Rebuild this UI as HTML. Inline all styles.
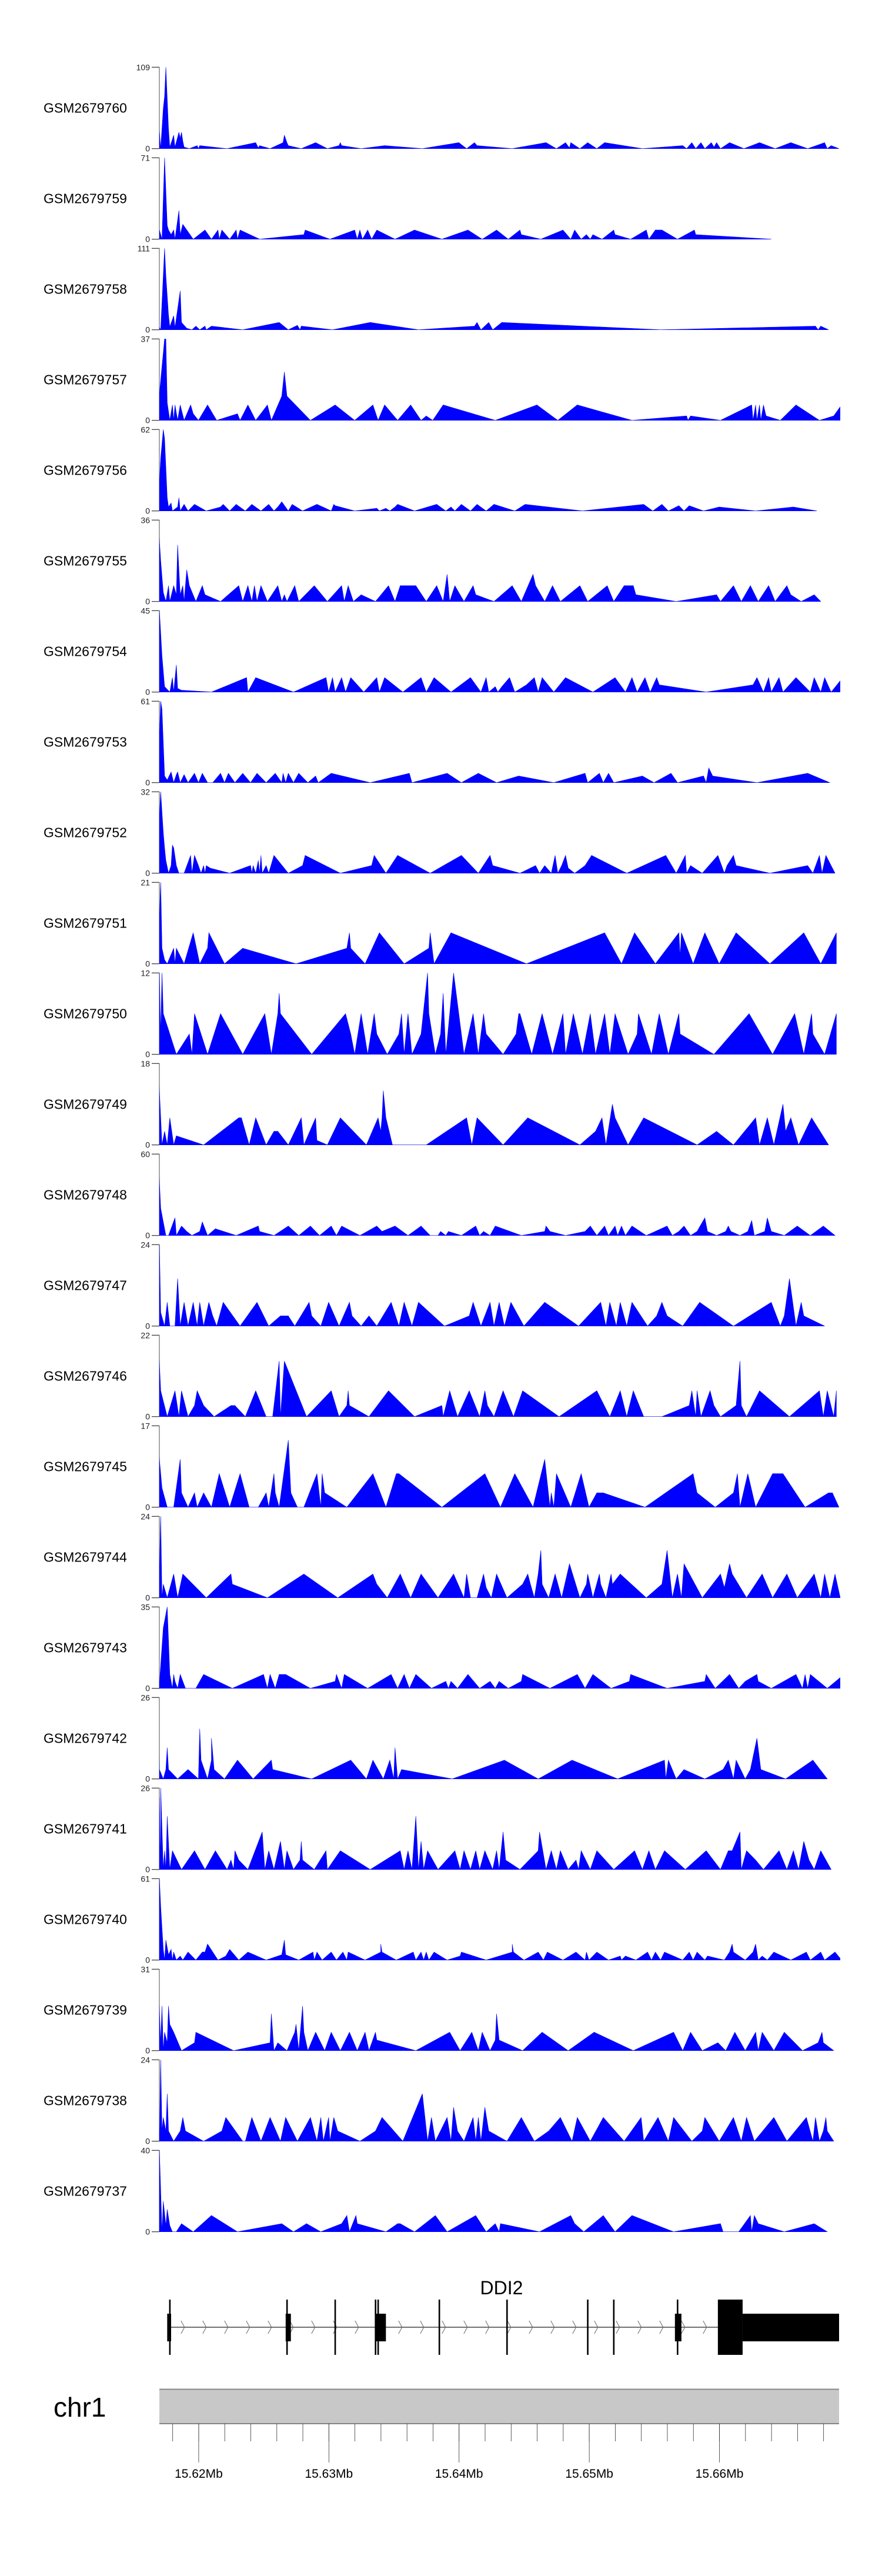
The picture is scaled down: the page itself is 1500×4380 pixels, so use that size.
<!DOCTYPE html>
<html><head><meta charset="utf-8"><title>DDI2 coverage tracks</title>
<style>
html,body{margin:0;padding:0;background:#fff;}
svg{display:block;font-family:"Liberation Sans",Arial,sans-serif;}
</style></head>
<body>
<svg id="chart" width="1500" height="4380" viewBox="0 0 1500 4380" xmlns="http://www.w3.org/2000/svg">
<defs><clipPath id="plotclip"><rect x="271" y="0" width="1158" height="4380"/></clipPath></defs>
<g id="tracks"></g>
<g id="gene"></g>
<g id="ideo"></g>
</svg>
<script>
// ---- data: sample names, y-axis maxima, coverage points [kb offset from 15616.48kb, reads] ----
const sampleNames = ["GSM2679760","GSM2679759","GSM2679758","GSM2679757","GSM2679756","GSM2679755","GSM2679754","GSM2679753","GSM2679752","GSM2679751","GSM2679750","GSM2679749","GSM2679748","GSM2679747","GSM2679746","GSM2679745","GSM2679744","GSM2679743","GSM2679742","GSM2679741","GSM2679740","GSM2679739","GSM2679738","GSM2679737"];
const axisMax = [109,71,111,37,62,36,45,61,32,21,12,18,60,24,22,17,24,35,26,26,61,31,24,40];
const d60=[[0.5,23],[0.6,0],[0.8,54],[0.9,70],[1.0,109],[1.2,26],[1.3,2],[1.6,18],[1.7,2],[2.0,22],[2.1,14],[2.2,22],[2.3,10],[2.4,2],[2.8,0],[3.4,4],[3.5,0],[3.6,4],[5.7,0],[7.9,8],[8.1,1],[8.2,4],[9.0,0],[10.0,8],[10.1,18],[10.3,8],[10.4,4],[11.4,0],[12.5,8],[13.4,0],[14.3,4],[14.4,8],[14.5,4],[16.0,0],[17.8,4],[20.7,0],[23.5,8],[24.1,0],[24.7,8],[24.9,4],[27.6,0],[30.2,8],[31.0,0],[31.7,8],[32.0,1],[32.1,8],[32.8,0],[33.4,8],[34.1,0],[34.7,8],[37.6,0],[40.7,4],[41.0,0],[41.4,8],[41.7,0],[42.1,8],[42.4,0],[42.9,8],[43.1,2],[43.3,8],[43.6,0],[44.3,8],[45.4,0],[46.6,8],[47.8,0],[49.0,8],[50.3,0],[51.6,8],[51.8,0],[52.1,4],[52.7,0]];
const d59=[[0.5,8],[0.7,0],[0.9,71],[1.1,12],[1.2,8],[1.4,4],[1.6,8],[1.7,0],[2.0,25],[2.1,4],[2.3,13],[3.1,0],[4.0,8],[4.5,0],[5.0,8],[5.1,0],[5.3,8],[5.9,0],[6.4,8],[6.5,0],[6.7,8],[8.2,0],[11.6,4],[11.7,8],[13.6,0],[15.5,8],[15.7,0],[15.9,8],[16.1,0],[16.5,8],[16.8,0],[17.2,8],[18.6,0],[20.1,8],[22.2,0],[24.2,8],[25.3,0],[26.4,8],[27.3,0],[28.2,8],[28.3,4],[29.8,0],[31.5,8],[32.1,0],[32.4,8],[32.9,0],[33.3,4],[33.6,0],[33.8,4],[34.5,0],[35.4,8],[35.5,4],[36.7,0],[37.9,8],[38.1,0],[38.6,8],[39.1,8],[40.3,0],[41.6,8],[41.7,4],[47.5,0]];
const d58=[[0.4,6],[0.6,0],[0.9,111],[1.0,74],[1.2,20],[1.3,4],[1.6,19],[1.7,3],[2.1,53],[2.2,10],[2.6,2],[3.0,0],[3.3,5],[3.6,0],[4.0,5],[4.1,0],[4.5,5],[6.9,0],[9.7,10],[10.4,0],[11.1,6],[11.3,0],[11.4,5],[13.8,0],[16.7,10],[20.4,0],[24.7,5],[24.9,10],[25.2,0],[25.8,10],[26.1,0],[26.8,10],[39.0,0],[50.9,5],[51.1,0],[51.3,5],[51.9,0]];
const d57=[[0.2,0],[0.5,12],[0.9,37],[1.0,37],[1.1,8],[1.3,0],[1.5,7],[1.6,0],[1.7,7],[1.9,0],[2.1,7],[2.4,0],[2.9,7],[3.1,3],[3.5,0],[4.2,7],[4.6,3],[4.9,0],[6.5,3],[6.7,0],[7.3,7],[7.9,0],[8.8,7],[9.1,0],[9.9,11],[10.1,22],[10.3,11],[12.1,0],[14.0,7],[15.5,0],[16.9,7],[17.3,0],[17.8,7],[18.8,0],[19.8,7],[20.6,0],[21.0,2],[21.5,0],[22.3,7],[26.3,0],[29.5,7],[31.1,0],[32.6,7],[36.8,0],[41.0,2],[41.1,0],[41.3,2],[43.6,0],[46.0,7],[46.1,0],[46.3,7],[46.4,0],[46.6,7],[46.7,0],[46.9,7],[47.1,2],[48.2,0],[49.4,7],[51.2,0],[52.3,2],[52.9,7],[53.0,0]];
const d56=[[0.2,0],[0.4,4],[0.6,40],[0.8,62],[0.9,55],[1.1,10],[1.2,3],[1.4,6],[1.5,0],[1.9,3],[2.0,10],[2.1,0],[2.4,5],[2.7,0],[3.2,5],[4.1,0],[5.2,3],[5.4,5],[5.9,0],[6.4,5],[7.1,0],[7.6,5],[8.3,0],[8.9,5],[9.3,0],[9.6,3],[9.9,7],[10.4,0],[10.7,5],[11.5,0],[12.6,5],[13.7,0],[13.9,5],[14.0,4],[15.5,0],[17.2,2],[17.4,0],[17.9,2],[18.2,0],[18.6,3],[18.8,5],[20.1,0],[21.8,5],[22.5,0],[22.9,3],[23.2,0],[23.7,5],[24.4,0],[24.9,5],[25.6,0],[26.2,5],[27.8,0],[28.6,5],[33.0,0],[37.7,5],[38.4,0],[39.1,5],[39.6,0],[40.4,4],[40.8,0],[41.2,4],[42.3,0],[43.5,3],[46.3,0],[49.2,3],[51.0,0]];
const d55=[[0.1,0],[0.4,36],[0.6,18],[0.8,4],[1.0,0],[1.2,7],[1.3,0],[1.6,7],[1.8,3],[1.9,25],[2.1,3],[2.3,7],[2.4,0],[2.6,14],[2.8,7],[3.3,0],[3.8,7],[4.0,3],[5.2,0],[6.6,7],[6.9,0],[7.3,7],[7.6,0],[7.8,7],[8.0,0],[8.3,7],[8.8,0],[9.6,7],[9.9,0],[10.1,3],[10.3,0],[10.9,7],[11.2,0],[12.4,7],[13.4,0],[14.5,7],[14.7,0],[15.0,7],[15.4,0],[16.0,3],[17.1,0],[18.1,7],[18.6,0],[19.0,7],[20.2,7],[21.0,0],[21.8,7],[22.3,0],[22.6,12],[22.8,0],[23.2,7],[23.9,0],[24.6,7],[24.8,3],[26.2,0],[27.6,7],[28.3,0],[29.2,12],[29.4,7],[30.1,0],[30.7,7],[31.3,0],[32.8,7],[33.4,0],[34.9,7],[35.4,0],[36.2,7],[36.9,7],[37.1,3],[40.2,0],[43.3,3],[43.6,0],[44.6,7],[45.2,0],[45.9,7],[46.5,0],[47.3,7],[47.8,0],[48.7,7],[49.0,3],[49.8,0],[50.8,3],[51.3,0]];
const d54=[[0.1,0],[0.5,45],[0.7,20],[0.9,3],[1.3,0],[1.5,8],[1.6,0],[1.8,15],[1.9,2],[2.2,1],[4.5,0],[7.2,8],[7.3,0],[7.9,8],[10.8,0],[13.3,8],[13.5,0],[13.8,8],[14.0,0],[14.5,8],[14.8,0],[15.2,8],[16.2,0],[17.2,8],[17.4,0],[17.8,8],[19.2,0],[20.6,8],[21.0,0],[21.6,8],[22.9,0],[24.4,8],[25.2,0],[25.6,8],[25.8,0],[26.3,3],[26.5,0],[26.8,3],[27.4,8],[27.8,0],[28.7,4],[29.3,8],[29.6,0],[29.9,8],[30.8,0],[31.7,8],[33.8,0],[35.5,8],[36.3,0],[36.8,8],[37.2,0],[37.8,8],[38.2,0],[38.7,8],[38.9,4],[42.5,0],[46.1,4],[46.4,8],[46.9,0],[47.3,8],[47.5,0],[48.1,8],[48.4,0],[49.4,8],[50.5,0],[50.8,8],[51.3,0],[51.6,8],[52.1,0],[53.0,8]];
const d53=[[0.1,0],[0.4,10],[0.6,61],[0.7,55],[0.9,5],[1.1,2],[1.4,8],[1.6,0],[1.8,6],[1.9,8],[2.1,0],[2.4,6],[2.7,0],[3.2,7],[3.5,0],[3.8,7],[4.2,0],[4.6,0],[5.2,7],[5.5,0],[5.8,7],[6.3,0],[6.9,7],[7.5,0],[8.0,7],[8.7,0],[9.4,7],[9.9,0],[10.0,7],[10.2,0],[10.4,7],[10.8,0],[11.2,7],[11.9,0],[12.5,5],[12.7,0],[13.7,7],[16.7,0],[19.7,7],[19.9,0],[22.6,7],[23.7,0],[25.0,7],[26.4,0],[28.1,5],[30.8,0],[33.2,7],[33.4,0],[34.3,7],[34.6,0],[35.0,7],[35.4,0],[37.6,5],[38.5,0],[39.8,7],[40.3,0],[42.3,5],[42.5,0],[42.7,11],[43.0,5],[46.4,0],[50.3,7],[52.0,0]];
const d52=[[0.1,0],[0.2,7],[0.3,3],[0.6,32],[0.8,16],[0.9,10],[1.0,5],[1.2,0],[1.4,3],[1.5,11],[1.6,10],[1.8,3],[2.0,0],[2.4,0],[2.9,7],[3.0,0],[3.2,7],[3.5,3],[3.7,0],[3.9,3],[4.0,0],[4.1,3],[4.4,2],[5.9,0],[7.5,3],[7.6,0],[7.7,3],[7.9,0],[8.1,5],[8.2,0],[8.3,7],[8.4,0],[8.7,3],[8.9,0],[9.3,7],[10.4,0],[11.5,3],[11.7,7],[14.4,0],[16.8,3],[17.0,7],[17.9,0],[18.8,7],[21.3,0],[23.7,7],[25.0,0],[25.9,7],[26.1,3],[28.2,0],[29.4,3],[29.7,0],[30.1,3],[30.6,0],[30.9,7],[31.1,0],[31.4,3],[31.7,7],[31.9,2],[32.4,0],[33.2,3],[33.7,7],[36.4,0],[39.4,7],[40.2,0],[40.9,7],[41.0,0],[41.3,3],[42.2,0],[43.4,7],[43.9,0],[44.1,3],[44.6,7],[44.8,3],[47.4,0],[50.3,3],[50.7,0],[51.2,7],[51.4,0],[51.7,7],[52.4,0]];
const d51=[[0.1,0],[0.3,12],[0.4,8],[0.5,12],[0.6,21],[0.7,4],[0.9,1],[1.1,0],[1.6,4],[1.7,0],[1.8,4],[2.4,0],[3.1,8],[3.6,0],[4.2,4],[4.3,8],[5.5,0],[6.9,4],[11.0,0],[14.9,4],[15.1,8],[15.2,4],[16.3,0],[17.4,8],[19.3,0],[21.2,4],[21.3,8],[21.6,0],[22.9,8],[28.7,0],[34.7,8],[36.0,0],[37.0,8],[38.6,0],[40.4,8],[40.5,2],[40.6,8],[41.5,0],[42.4,8],[43.5,0],[44.8,8],[47.4,0],[50.0,8],[51.3,0],[52.5,8]];
const d50=[[0.1,0],[0.3,3],[0.4,0],[0.5,12],[0.6,3],[0.7,12],[0.8,6],[1.8,0],[2.8,3],[3.0,0],[3.2,6],[4.2,0],[5.2,6],[6.9,0],[8.6,6],[9.1,0],[9.6,6],[9.7,9],[9.8,6],[12.2,0],[14.8,6],[15.2,3],[15.5,0],[16.0,6],[16.5,0],[17.0,6],[17.2,3],[18.0,0],[18.9,3],[19.1,6],[19.3,0],[19.6,6],[19.9,0],[20.6,3],[21.1,12],[21.2,6],[21.7,0],[22.1,3],[22.3,9],[22.5,0],[23.1,12],[23.9,0],[24.6,6],[25.0,0],[25.4,6],[25.6,3],[26.9,0],[27.9,3],[28.1,6],[28.2,6],[29.1,0],[29.9,6],[30.7,0],[31.5,6],[31.7,0],[32.3,6],[33.0,0],[33.6,6],[34.0,0],[34.7,6],[35.1,0],[35.5,6],[36.5,0],[37.2,3],[37.3,6],[38.3,0],[38.9,6],[39.6,0],[40.4,6],[40.5,3],[43.1,0],[45.8,6],[47.6,0],[49.3,6],[50.0,0],[50.6,6],[50.7,3],[51.6,0],[52.5,6]];
const d49=[[0.1,0],[0.4,18],[0.6,6],[0.7,0],[0.9,3],[1.1,0],[1.3,6],[1.6,0],[1.8,2],[3.9,0],[6.6,6],[6.8,6],[7.4,0],[7.9,6],[8.7,0],[9.3,3],[9.6,3],[10.4,0],[11.4,6],[11.6,0],[12.5,6],[12.6,1],[13.4,0],[14.4,6],[16.4,0],[17.3,6],[17.5,3],[17.6,6],[17.7,12],[17.9,6],[18.4,0],[21.0,0],[24.1,6],[24.5,0],[24.9,6],[26.9,0],[28.8,6],[32.8,0],[34.0,3],[34.5,6],[34.8,0],[35.3,9],[35.5,6],[36.5,0],[37.7,6],[41.8,0],[43.3,3],[44.6,0],[46.3,6],[46.6,0],[47.2,6],[47.7,0],[48.4,9],[48.6,3],[49.0,6],[49.6,0],[50.6,6],[51.9,0]];
const d48=[[0.2,0],[0.3,40],[0.4,60],[0.6,20],[0.9,5],[1.0,0],[1.2,0],[1.7,13],[1.8,0],[2.2,7],[2.6,3],[3.0,0],[3.6,3],[3.8,10],[4.2,0],[4.8,5],[6.4,0],[8.1,7],[8.2,3],[9.3,0],[10.4,7],[11.2,0],[12.1,7],[12.8,0],[13.7,7],[14.1,0],[14.5,7],[15.9,0],[17.2,7],[17.6,3],[18.6,7],[19.6,0],[20.6,7],[21.3,0],[21.9,0],[22.1,3],[22.5,0],[22.7,3],[23.7,0],[24.8,7],[25.1,0],[25.4,3],[25.9,0],[26.3,7],[28.3,0],[30.1,3],[30.2,7],[30.5,3],[31.7,0],[33.2,3],[33.6,7],[34.1,0],[34.7,7],[35.0,0],[35.5,7],[35.7,0],[36.0,7],[36.3,0],[36.8,7],[37.9,0],[39.5,7],[39.9,0],[40.4,3],[40.8,7],[41.3,0],[41.8,3],[42.4,13],[42.6,3],[43.3,0],[44.0,3],[44.2,7],[44.4,3],[45.1,0],[45.7,3],[46.0,11],[46.2,0],[47.0,3],[47.2,13],[47.5,3],[48.5,0],[49.5,7],[50.5,0],[51.5,7],[52.4,0]];
const d47=[[0.1,0],[0.3,21],[0.5,24],[0.6,4],[0.9,0],[1.1,7],[1.3,0],[1.7,0],[1.9,14],[2.1,0],[2.4,7],[2.7,0],[3.1,7],[3.4,0],[3.6,7],[3.9,0],[4.3,7],[4.6,3],[4.9,0],[5.4,7],[6.7,0],[8.0,7],[8.9,0],[9.8,3],[10.4,3],[10.9,0],[12.0,7],[12.2,3],[12.9,0],[13.5,7],[14.3,0],[15.1,7],[15.3,3],[16.0,0],[16.6,3],[17.2,0],[18.3,7],[18.9,0],[19.3,7],[19.9,0],[20.4,7],[22.4,0],[24.3,3],[24.6,7],[25.2,0],[25.9,7],[26.2,0],[26.6,7],[27.0,0],[27.5,7],[28.5,0],[30.1,7],[32.7,0],[34.4,7],[34.8,0],[35.1,7],[35.6,0],[35.9,7],[36.4,0],[36.8,7],[38.0,0],[38.7,3],[39.1,7],[39.5,3],[40.7,0],[42.0,7],[44.6,0],[47.5,7],[48.2,0],[48.5,3],[48.9,14],[49.4,0],[49.8,7],[50.0,3],[51.6,0]];
const d46=[[0.1,0],[0.4,22],[0.6,7],[1.1,0],[1.7,7],[2.0,0],[2.2,7],[2.7,0],[3.2,3],[3.4,7],[3.9,3],[4.7,0],[6.0,3],[6.3,3],[7.1,0],[7.9,7],[8.7,0],[9.2,0],[9.7,15],[9.8,0],[10.1,15],[11.8,0],[13.7,7],[14.3,0],[14.9,3],[15.0,7],[15.1,3],[16.6,0],[18.1,7],[20.1,0],[22.2,3],[22.3,0],[22.8,7],[23.4,0],[24.3,7],[25.1,0],[25.5,7],[25.7,3],[26.2,0],[26.9,7],[27.7,0],[28.4,7],[31.2,0],[34.1,7],[35.1,0],[35.9,7],[36.4,0],[36.9,7],[37.7,0],[39.1,0],[41.2,3],[41.4,7],[41.7,0],[41.8,7],[42.1,0],[42.8,7],[43.1,3],[43.6,0],[44.8,3],[45.1,15],[45.2,3],[45.6,0],[46.6,7],[48.9,0],[51.2,7],[51.5,0],[51.8,7],[52.3,0],[52.5,7]];
const d45=[[0.0,0],[0.3,17],[0.5,10],[0.7,4],[1.1,0],[1.6,0],[2.1,10],[2.2,3],[2.7,0],[3.2,3],[3.4,0],[3.9,3],[4.5,0],[5.1,7],[5.9,0],[6.7,7],[7.4,0],[8.1,0],[8.7,3],[8.9,0],[9.3,7],[9.4,3],[9.7,0],[10.4,14],[10.6,3],[11.1,0],[11.6,0],[12.6,7],[12.9,0],[13.0,7],[13.2,3],[14.9,0],[16.9,7],[17.9,0],[18.7,7],[18.9,7],[22.2,0],[25.5,7],[26.7,0],[27.8,7],[29.2,0],[30.1,10],[30.5,0],[30.6,3],[30.8,0],[31.0,7],[32.1,0],[32.9,7],[33.5,0],[34.1,3],[34.6,3],[37.8,0],[41.5,7],[41.8,3],[43.2,0],[44.6,3],[44.9,7],[45.1,0],[45.7,7],[46.3,0],[47.6,7],[48.4,7],[50.1,0],[51.9,3],[52.2,3],[52.7,0]];
const d44=[[0.1,0],[0.2,7],[0.3,0],[0.4,17],[0.5,8],[0.6,24],[0.7,0],[0.8,4],[1.1,0],[1.6,7],[1.9,0],[2.3,7],[4.1,0],[6.0,7],[6.1,4],[8.8,0],[11.6,7],[14.2,0],[16.9,7],[17.2,4],[18.0,0],[19.0,7],[19.8,0],[20.6,7],[21.9,0],[23.1,7],[23.9,0],[24.1,7],[24.4,0],[24.9,0],[25.4,7],[25.6,3],[26.0,0],[26.4,7],[27.2,0],[28.4,4],[28.8,7],[29.0,4],[29.3,0],[29.6,7],[29.8,14],[29.9,4],[30.4,0],[30.9,7],[31.4,0],[32.0,10],[32.8,0],[33.3,4],[33.4,7],[33.8,0],[34.3,7],[34.4,4],[34.8,0],[35.2,7],[35.3,4],[35.9,7],[37.9,0],[39.1,4],[39.5,14],[39.9,0],[40.3,7],[40.6,0],[40.8,10],[42.2,0],[43.6,7],[43.9,3],[44.3,10],[44.5,7],[45.6,0],[46.8,7],[47.6,0],[48.7,7],[49.5,0],[50.8,7],[51.3,0],[51.6,7],[52.0,0],[52.4,7],[52.8,0]];
const d43=[[0.0,0],[0.4,4],[0.5,2],[0.8,26],[1.1,35],[1.3,6],[1.5,0],[1.6,6],[1.7,3],[1.9,0],[2.1,6],[2.5,0],[3.3,0],[3.9,6],[6.1,0],[8.5,6],[8.8,0],[9.0,6],[9.4,0],[9.7,6],[10.2,6],[12.1,0],[14.0,3],[14.1,6],[14.3,3],[14.5,0],[14.7,6],[16.5,0],[18.3,6],[18.8,0],[19.3,6],[19.7,0],[20.2,6],[21.4,0],[22.5,3],[22.7,0],[22.9,3],[23.4,0],[24.2,6],[25.1,0],[25.9,3],[26.3,0],[26.6,3],[27.3,0],[28.3,3],[28.4,6],[30.5,0],[32.6,6],[33.2,0],[33.8,6],[35.2,0],[36.6,3],[36.7,6],[39.5,0],[42.4,3],[42.5,6],[43.2,0],[44.3,6],[45.0,0],[45.5,3],[46.4,6],[46.5,3],[47.5,0],[49.4,6],[49.9,0],[50.1,6],[50.3,0],[50.5,6],[51.8,0],[53.1,6]];
const d42=[[0.0,0],[0.3,3],[0.4,26],[0.5,3],[0.8,0],[1.0,3],[1.1,10],[1.2,3],[1.9,0],[2.7,3],[3.5,0],[3.6,16],[3.7,6],[4.2,0],[4.5,6],[4.5,13],[4.7,3],[5.5,0],[6.5,6],[7.7,0],[9.1,6],[9.2,3],[12.2,0],[15.2,6],[16.4,0],[16.9,6],[17.7,0],[18.2,6],[18.5,0],[18.6,10],[18.8,0],[19.1,3],[23.0,0],[27.0,6],[29.6,0],[32.2,6],[35.7,0],[39.3,6],[39.4,0],[39.6,6],[40.2,0],[40.8,3],[42.4,0],[43.8,3],[44.2,6],[44.6,0],[44.8,6],[45.5,0],[45.9,3],[46.4,13],[46.7,3],[48.6,0],[50.7,6],[51.8,0]];
const d41=[[0.0,0],[0.1,12],[0.4,0],[0.5,23],[0.6,0],[0.6,26],[0.8,0],[0.9,6],[1.0,0],[1.1,17],[1.3,0],[1.5,6],[2.2,0],[3.2,6],[4.0,0],[4.8,6],[5.7,0],[6.0,3],[6.2,0],[6.3,6],[6.6,3],[7.3,0],[8.4,12],[8.6,0],[8.9,6],[9.3,0],[9.8,9],[10.1,0],[10.3,6],[10.8,0],[11.3,3],[11.4,9],[11.5,3],[12.4,0],[13.3,6],[13.4,0],[14.4,6],[16.7,0],[19.0,6],[19.3,0],[19.6,6],[19.9,0],[20.2,17],[20.4,0],[20.6,9],[20.8,0],[21.1,6],[21.9,0],[23.2,6],[23.6,0],[23.9,6],[24.4,0],[24.8,6],[25.1,0],[25.5,6],[26.1,0],[26.4,6],[26.6,0],[26.9,12],[27.1,3],[28.2,0],[29.6,6],[29.7,12],[30.2,0],[30.6,6],[31.0,0],[31.3,6],[31.9,0],[32.5,3],[32.7,0],[32.9,6],[33.6,0],[34.1,6],[35.4,0],[37.0,6],[37.6,0],[38.1,6],[38.6,0],[39.3,6],[40.9,0],[42.5,6],[43.6,0],[44.2,6],[44.5,6],[45.1,12],[45.2,0],[45.6,6],[46.3,3],[46.9,0],[48.1,6],[48.7,0],[49.2,6],[49.6,0],[50.0,9],[50.4,3],[50.8,0],[51.3,6],[52.1,0]];
const d40=[[0.0,0],[0.2,18],[0.4,55],[0.5,61],[0.6,40],[0.8,8],[0.9,0],[1.0,15],[1.2,4],[1.4,8],[1.5,0],[1.6,6],[1.8,0],[2.1,3],[2.3,0],[2.7,6],[3.3,0],[3.8,6],[4.0,6],[4.2,12],[5.0,0],[5.6,3],[5.9,8],[6.6,0],[7.3,6],[8.7,0],[9.9,4],[10.1,15],[10.2,4],[11.2,0],[12.3,6],[12.4,0],[12.6,6],[13.0,0],[13.7,6],[14.1,0],[14.6,6],[14.9,0],[15.0,6],[16.3,0],[17.5,6],[17.5,12],[17.6,6],[18.7,0],[20.0,6],[20.2,0],[20.6,6],[20.8,0],[21.0,6],[21.2,0],[21.6,6],[22.6,0],[23.6,3],[23.7,6],[25.6,0],[27.6,6],[27.6,12],[27.7,6],[28.5,0],[29.6,6],[30.0,0],[30.3,6],[31.5,0],[32.5,6],[33.2,0],[33.3,6],[33.5,0],[34.1,6],[35.0,0],[35.9,3],[36.0,0],[36.3,3],[37.1,0],[38.0,6],[38.3,0],[38.6,6],[39.0,0],[39.3,6],[40.7,0],[41.2,6],[41.5,0],[41.8,6],[42.4,0],[42.6,3],[43.9,0],[44.3,6],[44.5,12],[44.6,6],[45.5,0],[46.1,6],[46.3,12],[46.5,0],[46.8,3],[47.2,0],[47.7,6],[49.0,0],[50.2,6],[50.5,0],[51.3,6],[51.6,0],[52.4,6],[52.9,0]];
const d39=[[0.0,0],[0.3,31],[0.4,28],[0.6,3],[0.7,17],[0.8,0],[0.9,7],[1.1,3],[1.2,17],[1.3,10],[1.6,7],[2.2,0],[3.2,3],[3.3,7],[6.2,0],[9.0,3],[9.1,14],[9.3,0],[9.6,3],[10.3,0],[10.9,7],[11.0,10],[11.2,0],[11.5,17],[11.6,7],[11.9,0],[12.5,7],[13.2,0],[13.7,7],[14.4,0],[15.1,7],[15.7,0],[16.3,7],[16.6,0],[17.1,7],[17.2,4],[20.2,0],[22.8,7],[23.6,0],[24.5,7],[25.0,0],[25.3,7],[25.9,0],[26.3,4],[26.4,14],[26.6,4],[28.4,0],[29.9,7],[31.9,0],[33.9,7],[36.9,0],[40.0,7],[40.7,0],[41.3,7],[42.2,0],[43.4,3],[44.0,0],[44.7,7],[45.5,0],[46.3,7],[46.5,0],[46.8,7],[47.7,0],[48.5,7],[49.9,0],[51.1,3],[51.4,7],[51.5,3],[52.3,0]];
const d38=[[0.0,0],[0.1,17],[0.2,21],[0.3,0],[0.4,20],[0.5,0],[0.6,24],[0.7,3],[0.8,7],[1.0,3],[1.1,14],[1.2,3],[1.6,0],[2.1,3],[2.3,7],[2.5,3],[3.9,0],[5.3,3],[5.6,7],[6.9,0],[7.1,0],[7.6,7],[8.3,0],[9.0,7],[9.8,0],[10.2,7],[11.1,0],[12.1,7],[12.6,0],[12.9,7],[13.1,0],[13.5,7],[13.6,0],[13.9,7],[14.2,3],[15.9,0],[17.1,3],[17.6,7],[19.2,0],[20.7,14],[21.1,0],[21.4,7],[21.7,0],[22.6,7],[22.9,0],[23.1,10],[23.4,3],[23.9,0],[24.6,7],[24.8,0],[25.0,7],[25.2,0],[25.5,10],[25.8,3],[27.2,0],[28.3,7],[29.3,0],[30.4,3],[31.3,7],[32.2,0],[32.6,7],[33.6,0],[34.6,7],[36.2,0],[37.5,7],[37.7,0],[38.8,7],[39.6,0],[40.0,7],[41.4,0],[42.2,3],[42.4,7],[43.5,0],[44.6,7],[45.2,0],[45.6,7],[46.2,0],[47.7,7],[48.7,0],[50.2,7],[50.7,0],[50.9,7],[51.2,0],[51.5,3],[51.7,7],[51.8,3],[52.3,0]];
const d37=[[0.0,0],[0.2,10],[0.4,33],[0.5,40],[0.7,0],[0.8,15],[1.0,3],[1.1,11],[1.3,3],[1.5,0],[1.8,0],[2.2,4],[3.1,0],[4.5,8],[6.5,0],[9.9,4],[10.8,0],[11.8,4],[12.9,0],[14.5,4],[14.9,8],[15.1,0],[15.6,8],[15.7,4],[17.9,0],[18.8,4],[19.0,4],[20.1,0],[21.7,8],[22.6,0],[24.8,8],[25.6,0],[26.3,4],[26.6,0],[26.7,4],[29.7,0],[32.1,8],[32.4,4],[33.1,0],[34.6,8],[35.5,0],[36.8,8],[40.0,0],[43.6,4],[43.8,0],[45.0,0],[45.9,8],[46.0,0],[46.2,8],[46.5,4],[48.5,0],[50.8,4],[51.8,0]];
const coverage = [d60,d59,d58,d57,d56,d55,d54,d53,d52,d51,d50,d49,d48,d47,d46,d45,d44,d43,d42,d41,d40,d39,d38,d37];
// gene model (genomic kb offsets from 15616.48kb)
const exonLines = [1.3,10.3,14.0,17.1,17.3,22.0,27.2,33.4,35.4,40.3];
const cdsBlocks = [[1.1,1.4],[10.2,10.6],[17.1,17.9],[40.1,40.6]];
const bigExon = [43.4,45.3];
const utrEnd = [45.3,52.7];
const axisTicksMb = [15.62,15.63,15.64,15.65,15.66];
</script>
<script>
const NS="http://www.w3.org/2000/svg";
const X0=260, PXKB=22.14, ORIGIN_KB=15616.48;
function xKb(k){return X0+k*PXKB;}
function xMb(mb){return xKb(mb*1000-ORIGIN_KB);}
function mk(tag,attrs,parent){const e=document.createElementNS(NS,tag);for(const k in attrs)e.setAttribute(k,attrs[k]);parent.appendChild(e);return e;}
const tracksG=document.getElementById('tracks');
const TOP0=114.3, PITCH=154, H=138.4;
sampleNames.forEach((nm,i)=>{
  const top=TOP0+PITCH*i, zero=top+H, mx=axisMax[i];
  const yOf=v=>zero-(v/mx)*H;
  const g=mk('g',{},tracksG);
  
  
  const lab=mk('text',{x:74,y:(top+zero)/2+8,'font-size':23,fill:'#000'},g);
  lab.textContent=nm;
  
  
  const ax=mk('line',{x1:271,y1:top,x2:271,y2:zero,stroke:'#888','stroke-width':1.5},g);
  
  
  [[mx,top],[0,zero]].forEach(([v,y])=>{
    const t=mk('line',{x1:258,y1:y,x2:271,y2:y,stroke:'#333','stroke-width':1.2},g);
    
    
    const tl=mk('text',{x:255,y:y+5,'font-size':14,'text-anchor':'end',fill:'#222'},g);
    tl.textContent=String(v);
    
    
  });
  const pts=coverage[i];
  let d='M'+xKb(pts[0][0]).toFixed(1)+','+zero;
  pts.forEach(p=>{d+=' L'+xKb(p[0]).toFixed(1)+','+yOf(p[1]).toFixed(1);});
  d+=' L'+xKb(pts[pts.length-1][0]).toFixed(1)+','+zero+' Z';
  const area=mk('path',{d:d,fill:'#0000ff',stroke:'#0000ff','stroke-width':0.6,'clip-path':'url(#plotclip)'},g);
  
  
});
// gene track
const geneG=document.getElementById('gene');
const GC=3957, FT=3910, FB=4004, MT=3934, MB=3981;
const gl=mk('text',{x:853,y:3901,'font-size':32,'text-anchor':'middle',fill:'#000'},geneG);
gl.textContent='DDI2';


const intron=mk('line',{x1:xKb(exonLines[0]),y1:GC,x2:xKb(bigExon[0]),y2:GC,stroke:'#444','stroke-width':1.5},geneG);


for(let x=xKb(exonLines[0])+22;x<xKb(bigExon[0])-6;x+=37){
  const ch=mk('polyline',{points:(x-3)+','+(GC-11)+' '+(x+3)+','+GC+' '+(x-3)+','+(GC+11),fill:'none',stroke:'#666','stroke-width':1},geneG);
  
  
}
exonLines.forEach(k=>{
  const e=mk('rect',{x:xKb(k)-1.2,y:FT,width:2.6,height:FB-FT,fill:'#000'},geneG);
  
  
});
cdsBlocks.forEach(b=>{
  const e=mk('rect',{x:xKb(b[0]),y:MT,width:xKb(b[1])-xKb(b[0]),height:MB-MT,fill:'#000'},geneG);
  
  
});
const be=mk('rect',{x:xKb(bigExon[0]),y:FT,width:xKb(bigExon[1])-xKb(bigExon[0]),height:FB-FT,fill:'#000'},geneG);


const ue=mk('rect',{x:xKb(utrEnd[0]),y:MT,width:1427-xKb(utrEnd[0]),height:MB-MT,fill:'#000'},geneG);


// ideogram + axis
const ideo=document.getElementById('ideo');
const cl=mk('text',{x:91,y:4109,'font-size':46,fill:'#000'},ideo);
cl.textContent='chr1';


const band=mk('rect',{x:271,y:4062,width:1156,height:59,fill:'#c8c8c8'},ideo);


mk('line',{x1:271,y1:4062.5,x2:1427,y2:4062.5,stroke:'#888','stroke-width':2},ideo);
mk('line',{x1:271,y1:4121,x2:1427,y2:4121,stroke:'#666','stroke-width':1.5},ideo);
for(let mb=15.618;mb<15.6685;mb+=0.002){
  const t=mk('line',{x1:xMb(mb),y1:4121,x2:xMb(mb),y2:4151,stroke:'#333','stroke-width':0.8},ideo);
  
  
}
axisTicksMb.forEach(mb=>{
  const t=mk('line',{x1:xMb(mb),y1:4121,x2:xMb(mb),y2:4187,stroke:'#333','stroke-width':0.8},ideo);
  
  
  const l=mk('text',{x:xMb(mb),y:4213,'font-size':21,'text-anchor':'middle',fill:'#000'},ideo);
  l.textContent=mb.toFixed(2)+'Mb';
  
  
});
</script>
</body></html>
